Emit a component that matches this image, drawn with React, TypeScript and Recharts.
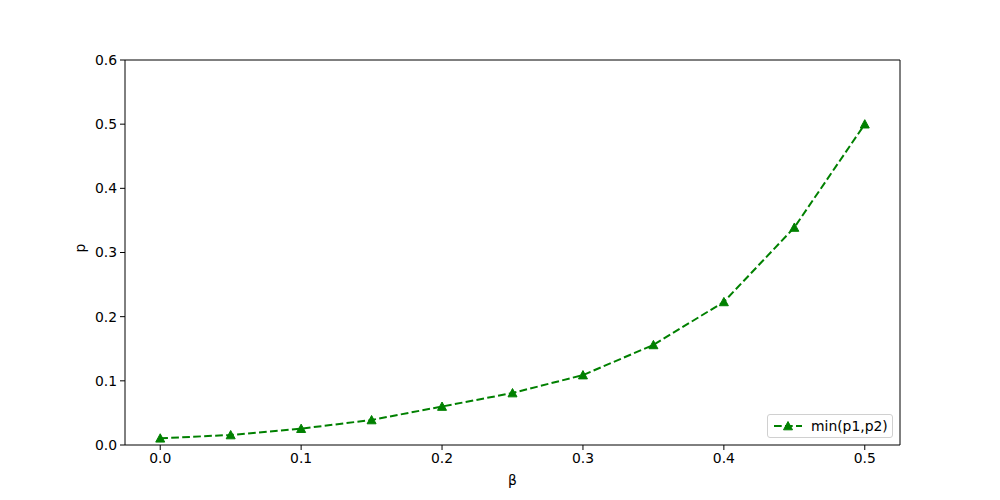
import { LineChart, Line, XAxis, YAxis, ReferenceLine } from 'recharts'

const betas = [0, 0.05, 0.1, 0.15, 0.2, 0.25, 0.3, 0.35, 0.4, 0.45, 0.5]
const minP = [0.0105, 0.0156, 0.0255, 0.039, 0.06, 0.081, 0.109, 0.156, 0.223, 0.339, 0.5]
const xTicks = [0, 0.1, 0.2, 0.3, 0.4, 0.5]
const yTicks = [0, 0.1, 0.2, 0.3, 0.4, 0.5, 0.6]

const data = betas.map((b, i) => ({ beta: b, p: minP[i] }))

const GREEN = '#008000'
const font = { fontFamily: 'DejaVu Sans', fontSize: 13.9, fill: '#000' }

const Triangle = (props: any) => {
  const { cx, cy } = props
  if (cx == null || cy == null) return null
  const s = 4.5
  return (
    <path
      d={`M${cx},${cy - s} L${cx + s},${cy + s * 0.85} L${cx - s},${cy + s * 0.85} Z`}
      fill={GREEN}
      stroke={GREEN}
      strokeWidth={1}
    />
  )
}

const LegendBox = () => (
  <div
    style={{
      position: 'absolute',
      left: 767,
      top: 414,
      width: 126,
      height: 24,
      border: '1px solid #d0d0d0',
      borderRadius: 3,
      background: '#fff',
      boxSizing: 'border-box',
      display: 'flex',
      alignItems: 'center',
      fontFamily: 'DejaVu Sans',
      fontSize: 13.9,
    }}
  >
    <svg width={42} height={20}>
      <line x1={6} y1={10} x2={34} y2={10} stroke={GREEN} strokeWidth={2} strokeDasharray="7.7,3.3" />
      <Triangle cx={20} cy={10} />
    </svg>
    <span style={{ marginLeft: 1 }}>min(p1,p2)</span>
  </div>
)

export default function App() {
  return (
    <div style={{ position: 'absolute', left: 0, top: 0, width: 1000, height: 500, background: '#fff' }}>
      <LineChart width={1000} height={500} data={data} margin={{ top: 60, right: 100, bottom: 15, left: 65 }}>
        <XAxis
          dataKey="beta"
          type="number"
          domain={[-0.025, 0.525]}
          ticks={xTicks}
          tickFormatter={(v: number) => v.toFixed(1)}
          allowDataOverflow
          height={40}
          tickSize={5}
          tickMargin={3}
          stroke="#000"
          tick={font}
          label={{ value: 'β', position: 'insideBottom', offset: 0, style: font }}
        />
        <YAxis
          type="number"
          domain={[0, 0.6]}
          ticks={yTicks}
          tickFormatter={(v: number) => v.toFixed(1)}
          width={60}
          tickSize={5}
          tickMargin={3}
          stroke="#000"
          tick={font}
          label={{ value: 'p', angle: -90, position: 'insideLeft', offset: 15, style: font }}
        />
        <ReferenceLine y={0.6} stroke="#000" strokeWidth={1} />
        <ReferenceLine x={0.525} stroke="#000" strokeWidth={1} />
        <Line
          dataKey="p"
          stroke={GREEN}
          strokeWidth={2}
          strokeDasharray="7.7,3.3"
          dot={<Triangle />}
          activeDot={false}
          isAnimationActive={false}
        />
      </LineChart>
      <LegendBox />
    </div>
  )
}
